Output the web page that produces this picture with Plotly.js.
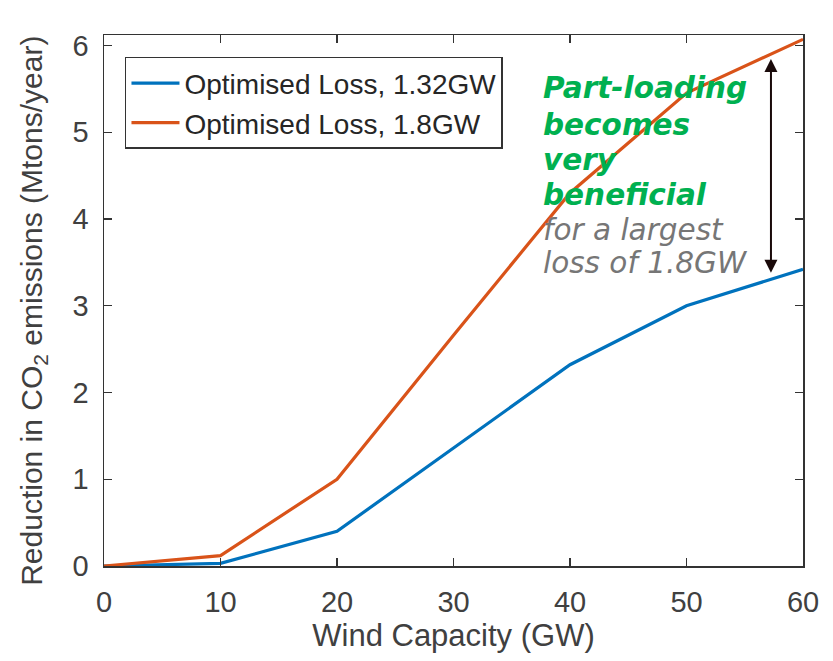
<!DOCTYPE html>
<html>
<head>
<meta charset="utf-8">
<script src="https://cdn.plot.ly/plotly-3.0.1.min.js"></script>
<style>html,body{margin:0;padding:0;background:#fff;}#chart{width:833px;height:661px;}</style>
</head>
<body>
<div id="chart"></div>
<script>
var windCapacity = [0, 10, 20, 30, 40, 50, 60];
var loss132 = [0, 0.03, 0.4, 1.36, 2.32, 3.0, 3.42];
var loss18 = [0, 0.12, 1.0, 2.66, 4.3, 5.45, 6.07];
var seriesNames = ['Optimised Loss, 1.32GW', 'Optimised Loss, 1.8GW'];
var xTicks = [0, 10, 20, 30, 40, 50, 60];
var yTicks = [0, 1, 2, 3, 4, 5, 6];
var greenLines = ['Part-loading', 'becomes', 'very', 'beneficial'];
var grayLines = ['for a largest', 'loss of 1.8GW'];
var yTitleText = 'Reduction in CO<sub>2</sub> emissions (Mtons/year)';
var xTitleText = 'Wind Capacity (GW)';

var axisColor = '#333333';
var fontFam = '"Liberation Sans", Arial, Helvetica, sans-serif';
var annFam = '"DejaVu Sans", Verdana, sans-serif';

var traces = [
  {x: windCapacity, y: loss132, name: seriesNames[0], mode: 'lines', type: 'scatter',
   line: {color: '#0072BD', width: 3.2}},
  {x: windCapacity, y: loss18, name: seriesNames[1], mode: 'lines', type: 'scatter',
   line: {color: '#D95319', width: 3.2}}
];

var lineTops = [5.73, 5.30, 4.90, 4.50, 4.09, 3.71];
var annotations = [
  {x: 57.25, y: 3.38, ax: 57.25, ay: 5.86, xref: 'x', yref: 'y', axref: 'x', ayref: 'y',
   text: '', showarrow: true, arrowhead: 2, startarrowhead: 2, arrowside: 'end+start',
   arrowsize: 1.3, startarrowsize: 1.3, arrowwidth: 2, arrowcolor: '#1a0a0a'},
  {x: -0.102, y: 0.48, xref: 'paper', yref: 'paper', xanchor: 'center', yanchor: 'middle',
   textangle: -90, showarrow: false, text: yTitleText,
   font: {family: fontFam, size: 30, color: '#404040'}}
];
greenLines.forEach(function (t, i) {
  annotations.push({x: 37.5, y: lineTops[i], xref: 'x', yref: 'y', xanchor: 'left', yanchor: 'top',
    showarrow: false, text: '<b><i>' + t + '</i></b>',
    font: {family: annFam, size: 29.5, color: '#00B050'}});
});
grayLines.forEach(function (t, i) {
  annotations.push({x: 37.5, y: lineTops[greenLines.length + i], xref: 'x', yref: 'y', xanchor: 'left', yanchor: 'top',
    showarrow: false, text: '<i>' + t + '</i>',
    font: {family: annFam, size: 29.5, color: '#767676'}});
});

var layout = {
  width: 833, height: 661,
  margin: {l: 104, r: 30, t: 35, b: 95, pad: 0},
  paper_bgcolor: '#ffffff', plot_bgcolor: '#ffffff',
  font: {family: fontFam, color: '#333333', size: 28},
  showlegend: true,
  legend: {x: 0.03, y: 0.9586, xanchor: 'left', yanchor: 'top',
           bgcolor: '#ffffff', bordercolor: '#333333', borderwidth: 1.5,
           font: {size: 28, color: '#262626', family: fontFam},
           itemwidth: 48, tracegroupgap: 0},
  xaxis: {range: [0, 60], tickvals: xTicks, ticks: 'inside', ticklen: 8, tickwidth: 1.3,
          tickcolor: axisColor, showline: true, linecolor: axisColor, linewidth: 1.5,
          mirror: 'allticks', showgrid: false, zeroline: false,
          tickfont: {size: 29, color: '#404040'}, ticklabelstandoff: 10,
          title: {text: xTitleText, font: {size: 31, color: '#404040'}, standoff: 6}},
  yaxis: {range: [0, 6.12], tickvals: yTicks, ticks: 'inside', ticklen: 8, tickwidth: 1.3,
          tickcolor: axisColor, showline: true, linecolor: axisColor, linewidth: 1.5,
          mirror: 'allticks', showgrid: false, zeroline: false,
          tickfont: {size: 29, color: '#404040'}, ticklabelstandoff: 8},
  annotations: annotations
};

Plotly.newPlot('chart', traces, layout, {displayModeBar: false, staticPlot: true});
</script>
</body>
</html>
